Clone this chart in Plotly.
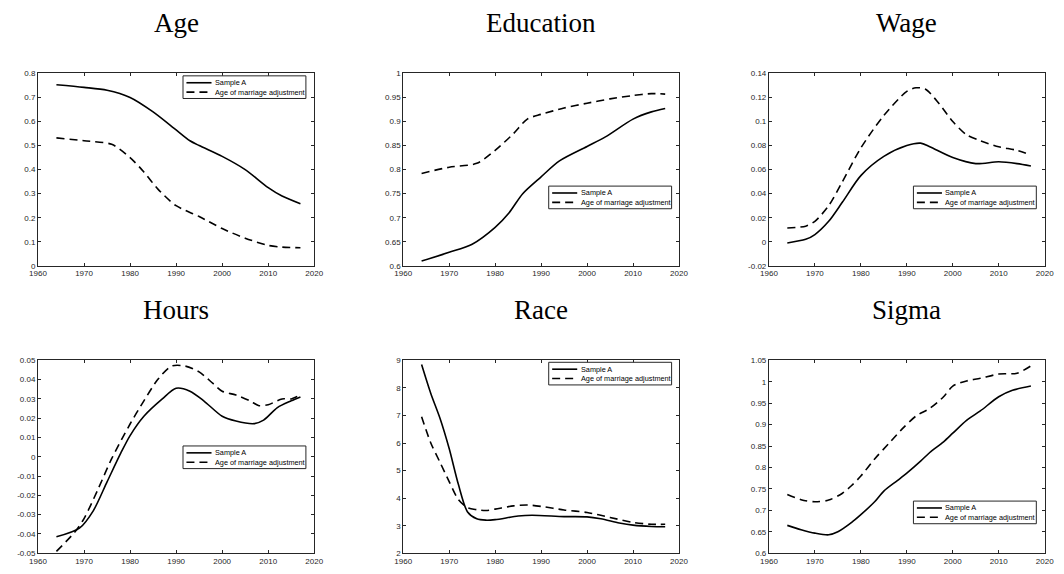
import plotly.graph_objects as go

# ---------------- data ----------------
series_names = ["Sample A", "Age of marriage adjustment"]
panel_titles = ["Age", "Education", "Wage", "Hours", "Race", "Sigma"]

x_ticks = [1960, 1970, 1980, 1990, 2000, 2010, 2020]
x_ticktext = ["1960", "1970", "1980", "1990", "2000", "2010", "2020"]

# Age
age_years_a = [1964, 1970, 1975, 1980, 1985, 1990, 1993, 1995, 2000, 2005, 2010, 2013, 2017]
age_a = [0.753, 0.742, 0.730, 0.700, 0.640, 0.565, 0.520, 0.500, 0.455, 0.400, 0.325, 0.290, 0.258]
age_years_b = [1964, 1970, 1976, 1980, 1983, 1986, 1990, 1995, 2000, 2005, 2010, 2013, 2017]
age_b = [0.532, 0.520, 0.505, 0.450, 0.390, 0.320, 0.250, 0.205, 0.155, 0.115, 0.085, 0.078, 0.075]
age_yticks = [0, 0.1, 0.2, 0.3, 0.4, 0.5, 0.6, 0.7, 0.8]
age_yticktext = ["0", "0.1", "0.2", "0.3", "0.4", "0.5", "0.6", "0.7", "0.8"]

# Education
edu_years_a = [1964, 1970, 1975, 1980, 1983, 1986, 1990, 1994, 2000, 2004, 2010, 2014, 2017]
edu_a = [0.610, 0.628, 0.645, 0.680, 0.710, 0.750, 0.785, 0.818, 0.848, 0.868, 0.905, 0.920, 0.927]
edu_years_b = [1964, 1970, 1976, 1980, 1984, 1987, 1990, 1995, 2000, 2005, 2010, 2014, 2017]
edu_b = [0.792, 0.805, 0.813, 0.840, 0.875, 0.905, 0.915, 0.928, 0.938, 0.947, 0.954, 0.958, 0.957]
edu_yticks = [0.6, 0.65, 0.7, 0.75, 0.8, 0.85, 0.9, 0.95, 1.0]
edu_yticktext = ["0.6", "0.65", "0.7", "0.75", "0.8", "0.85", "0.9", "0.95", "1"]

# Wage
wage_years_a = [1964, 1968, 1970, 1973, 1976, 1980, 1985, 1990, 1993, 1995, 2000, 2005, 2010, 2014, 2017]
wage_a = [-0.001, 0.002, 0.006, 0.017, 0.033, 0.055, 0.071, 0.080, 0.082, 0.079, 0.070, 0.065, 0.0665, 0.065, 0.063]
wage_years_b = [1964, 1968, 1970, 1973, 1976, 1980, 1985, 1990, 1992, 1994, 1997, 2000, 2003, 2006, 2010, 2014, 2017]
wage_b = [0.0115, 0.013, 0.017, 0.030, 0.050, 0.078, 0.105, 0.125, 0.128, 0.127, 0.115, 0.100, 0.089, 0.084, 0.079, 0.076, 0.072]
wage_yticks = [-0.02, 0, 0.02, 0.04, 0.06, 0.08, 0.1, 0.12, 0.14]
wage_yticktext = ["-0.02", "0", "0.02", "0.04", "0.06", "0.08", "0.1", "0.12", "0.14"]

# Hours
hours_years_a = [1964, 1969, 1972, 1975, 1978, 1980, 1983, 1987, 1990, 1993, 1996, 2000, 2003, 2007, 2009, 2012, 2015, 2017]
hours_a = [-0.0415, -0.037, -0.028, -0.013, 0.002, 0.011, 0.021, 0.030, 0.0355, 0.034, 0.029, 0.021, 0.0185, 0.0172, 0.019, 0.0255, 0.029, 0.031]
hours_years_b = [1964, 1968, 1970, 1973, 1976, 1980, 1983, 1986, 1989, 1992, 1995, 1998, 2000, 2003, 2006, 2008, 2010, 2013, 2015, 2017]
hours_b = [-0.049, -0.039, -0.032, -0.017, -0.001, 0.017, 0.029, 0.040, 0.047, 0.047, 0.044, 0.038, 0.034, 0.032, 0.029, 0.0265, 0.027, 0.030, 0.030, 0.032]
hours_yticks = [-0.05, -0.04, -0.03, -0.02, -0.01, 0, 0.01, 0.02, 0.03, 0.04, 0.05]
hours_yticktext = ["-0.05", "-0.04", "-0.03", "-0.02", "-0.01", "0", "0.01", "0.02", "0.03", "0.04", "0.05"]

# Race
race_years_a = [1964, 1966, 1968, 1970, 1972, 1974, 1976, 1978, 1980, 1985, 1988, 1995, 2000, 2003, 2007, 2010, 2014, 2017]
race_a = [8.85, 7.8, 6.9, 5.8, 4.5, 3.5, 3.25, 3.2, 3.22, 3.35, 3.38, 3.33, 3.32, 3.25, 3.10, 3.02, 2.97, 2.96]
race_years_b = [1964, 1966, 1968, 1970, 1972, 1974, 1976, 1978, 1980, 1984, 1987, 1990, 1995, 2000, 2005, 2010, 2014, 2017]
race_b = [6.95, 6.0, 5.3, 4.6, 3.95, 3.65, 3.58, 3.55, 3.60, 3.72, 3.75, 3.70, 3.57, 3.48, 3.30, 3.12, 3.05, 3.05]
race_yticks = [2, 3, 4, 5, 6, 7, 8, 9]
race_yticktext = ["2", "3", "4", "5", "6", "7", "8", "9"]

# Sigma
sigma_years_a = [1964, 1967, 1970, 1973, 1975, 1978, 1980, 1983, 1985, 1988, 1990, 1993, 1995, 1998, 2000, 2003, 2006, 2010, 2013, 2017]
sigma_a = [0.665, 0.655, 0.647, 0.643, 0.650, 0.672, 0.690, 0.720, 0.745, 0.770, 0.787, 0.815, 0.835, 0.860, 0.880, 0.910, 0.932, 0.965, 0.980, 0.990]
sigma_years_b = [1964, 1967, 1970, 1973, 1976, 1978, 1980, 1983, 1986, 1989, 1992, 1995, 1998, 2000, 2003, 2006, 2010, 2014, 2017]
sigma_b = [0.737, 0.725, 0.720, 0.724, 0.740, 0.758, 0.780, 0.820, 0.855, 0.890, 0.920, 0.938, 0.965, 0.990, 1.002, 1.008, 1.018, 1.020, 1.037]
sigma_yticks = [0.6, 0.65, 0.7, 0.75, 0.8, 0.85, 0.9, 0.95, 1.0, 1.05]
sigma_yticktext = ["0.6", "0.65", "0.7", "0.75", "0.8", "0.85", "0.9", "0.95", "1", "1.05"]

panels = [
    (age_years_a, age_a, age_years_b, age_b, age_yticks, age_yticktext, (0, 0.8)),
    (edu_years_a, edu_a, edu_years_b, edu_b, edu_yticks, edu_yticktext, (0.6, 1.0)),
    (wage_years_a, wage_a, wage_years_b, wage_b, wage_yticks, wage_yticktext, (-0.02, 0.14)),
    (hours_years_a, hours_a, hours_years_b, hours_b, hours_yticks, hours_yticktext, (-0.05, 0.05)),
    (race_years_a, race_a, race_years_b, race_b, race_yticks, race_yticktext, (2, 9)),
    (sigma_years_a, sigma_a, sigma_years_b, sigma_b, sigma_yticks, sigma_yticktext, (0.6, 1.05)),
]

# ---------------- layout / style ----------------
W, H = 1064, 574
col_px = [(29.5, 310.5), (401, 681.5), (773, 1053.5)]
row_px = [(70.5, 266), (362, 558)]
title_px_y = [19, 310.5]
# legend boxes: top-left corner in pixels, fixed size
legend_px = [(177, 73), (549, 185), (920, 185), (177, 449), (549, 364), (920, 505)]
LEG_W, LEG_H = 125, 23
LEG_ROW_DY = [7, 16.5]

axis_color = "#262626"
sans = "Liberation Sans, Arial, sans-serif"
tick_font = dict(family=sans, size=8, color=axis_color)
dash_style = "8px,5px"
LW = 1.6

fig = go.Figure()
annotations = []
shapes = []
layout = dict(
    width=W, height=H, margin=dict(l=0, r=0, t=0, b=0),
    paper_bgcolor="white", plot_bgcolor="white", showlegend=False,
)


def px_x(v):
    return v / W


def px_y(v):
    return 1 - v / H


for i, (xa, ya, xb, yb, yt, ytt, yr) in enumerate(panels):
    r, c = divmod(i, 3)
    n = "" if i == 0 else str(i + 1)
    xname, yname = "x" + n, "y" + n
    fig.add_trace(go.Scatter(
        x=xa, y=ya, mode="lines", name=series_names[0], xaxis=xname, yaxis=yname,
        line=dict(color="black", width=LW, shape="spline", smoothing=0.8)))
    fig.add_trace(go.Scatter(
        x=xb, y=yb, mode="lines", name=series_names[1], xaxis=xname, yaxis=yname,
        line=dict(color="black", width=LW, shape="spline", smoothing=0.8, dash=dash_style)))
    x0, x1 = col_px[c]
    y0, y1 = row_px[r]
    common = dict(showline=True, linecolor=axis_color, linewidth=1, mirror="ticks",
                  ticks="inside", ticklen=3, tickcolor=axis_color, tickwidth=1,
                  showgrid=False, zeroline=False, tickfont=tick_font)
    layout["xaxis" + n] = dict(
        domain=[px_x(x0), px_x(x1)], range=[1960, 2020], anchor=yname,
        tickmode="array", tickvals=x_ticks, ticktext=x_ticktext, **common)
    layout["yaxis" + n] = dict(
        domain=[px_y(y1), px_y(y0)], range=list(yr), anchor=xname,
        tickmode="array", tickvals=yt, ticktext=ytt, **common)

    # panel title
    annotations.append(dict(
        text=panel_titles[i], x=px_x((x0 + x1) / 2), y=px_y(title_px_y[r]),
        xref="paper", yref="paper", xanchor="center", yanchor="middle", showarrow=False,
        font=dict(family="Liberation Serif, DejaVu Serif, serif", size=27, color="black")))

    # legend box (drawn like the MATLAB legend)
    lx, ly = legend_px[i]
    shapes.append(dict(
        type="rect", xref="paper", yref="paper",
        x0=px_x(lx), x1=px_x(lx + LEG_W), y0=px_y(ly + LEG_H), y1=px_y(ly),
        line=dict(color=axis_color, width=1), fillcolor="white", layer="above"))
    for k, name in enumerate(series_names):
        yy = ly + LEG_ROW_DY[k]
        shapes.append(dict(
            type="line", xref="paper", yref="paper",
            x0=px_x(lx + 3.5), x1=px_x(lx + 29), y0=px_y(yy), y1=px_y(yy),
            line=dict(color="black", width=LW, dash=None if k == 0 else dash_style),
            layer="above"))
        annotations.append(dict(
            text=name, x=px_x(lx + 30.5), y=px_y(yy), xref="paper", yref="paper",
            xanchor="left", yanchor="middle", showarrow=False,
            font=dict(family=sans, size=7.3, color="black")))

layout["annotations"] = annotations
layout["shapes"] = shapes
fig.update_layout(**layout)
fig.write_html(
    "out.html",
    config={"displayModeBar": False},
    post_script="document.documentElement.style.margin='0px';document.body.style.margin='0px';document.body.style.overflow='hidden';",
)
